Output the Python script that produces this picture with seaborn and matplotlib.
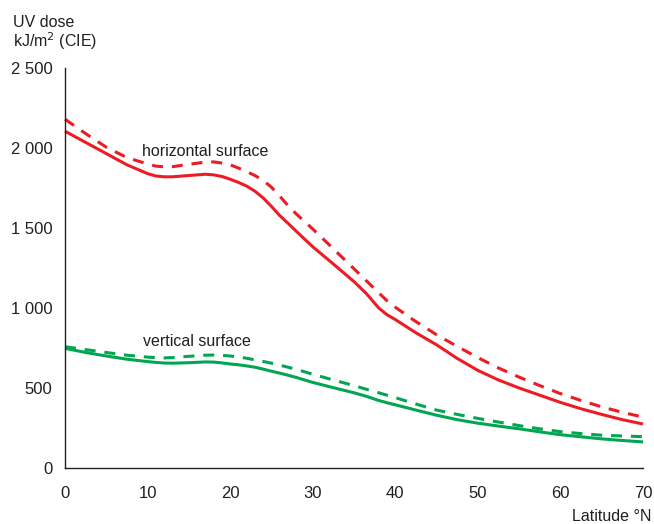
import matplotlib
matplotlib.use("Agg")
import matplotlib.pyplot as plt
from matplotlib import font_manager
import seaborn as sns
import pandas as pd

# Latitude samples (°N) and annual UV dose (kJ/m², CIE-weighted)
latitude = [0, 2.5, 5, 7.5, 10, 11, 12, 13, 15, 17, 18, 19, 20, 21, 22, 23, 24, 25, 26, 27,
            28, 30, 32.5, 35, 36.5, 38, 39, 40, 42.5, 45, 47.5, 50, 52.5, 55, 57.5, 60,
            62.5, 65, 67.5, 70]
horizontal_solid = [2105, 2035, 1965, 1895, 1840, 1825, 1820, 1820, 1828, 1836, 1832, 1822,
                    1805, 1785, 1762, 1730, 1688, 1635, 1578, 1530, 1480, 1383, 1275, 1165,
                    1090, 1000, 958, 928, 845, 770, 685, 610, 550, 500, 455, 410, 370, 335,
                    302, 275]
horizontal_dashed = [2180, 2090, 2005, 1940, 1900, 1887, 1882, 1883, 1898, 1912, 1913, 1906,
                     1895, 1875, 1852, 1828, 1798, 1755, 1700, 1640, 1588, 1494, 1370, 1245,
                     1170, 1095, 1045, 1005, 915, 833, 760, 690, 625, 568, 515, 465, 422,
                     382, 348, 318]
vertical_solid = [748, 722, 700, 680, 665, 660, 656, 655, 658, 663, 662, 657, 650, 645, 638,
                  630, 618, 605, 593, 580, 566, 535, 502, 470, 448, 422, 408, 395, 362, 330,
                  302, 280, 262, 245, 226, 208, 195, 182, 172, 163]
vertical_dashed = [758, 740, 722, 705, 693, 690, 688, 690, 698, 705, 706, 704, 700, 694, 686,
                   676, 666, 655, 643, 630, 617, 586, 550, 515, 492, 470, 455, 440, 400, 362,
                   335, 310, 287, 265, 245, 227, 215, 205, 200, 196]

x_ticks = [0, 10, 20, 30, 40, 50, 60, 70]
y_ticks = [0, 500, 1000, 1500, 2000, 2500]
y_tick_labels = ["0", "500", "1 000", "1 500", "2 000", "2 500"]

RED = "#ED1C24"
GREEN = "#00A651"
INK = "#231F20"

sns.set_theme(style="white")
available = {f.name for f in font_manager.fontManager.ttflist}
family = "Liberation Sans Narrow" if "Liberation Sans Narrow" in available else "Liberation Sans"
plt.rcParams["font.family"] = [family, "DejaVu Sans"]

n = len(latitude)
df = pd.DataFrame({
    "lat": latitude * 4,
    "dose": horizontal_solid + horizontal_dashed + vertical_solid + vertical_dashed,
    "series": ["hs"] * n + ["hd"] * n + ["vs"] * n + ["vd"] * n,
})

fig = plt.figure(figsize=(6.54, 5.24), dpi=100)
ax = fig.add_axes([65 / 654, 1 - 468 / 524, (643 - 65) / 654, (468 - 68) / 524])

sns.lineplot(data=df, x="lat", y="dose", hue="series", style="series",
             palette={"hs": RED, "hd": RED, "vs": GREEN, "vd": GREEN},
             dashes={"hs": "", "hd": (3.6, 2.9), "vs": "", "vd": (3.6, 2.9)},
             linewidth=2.2, legend=False, ax=ax, clip_on=False)
for line in ax.get_lines():
    line.set_solid_joinstyle("round")
    line.set_solid_capstyle("butt")

ax.set_xlim(0, 70)
ax.set_ylim(0, 2500)
ax.set_xticks(x_ticks)
ax.set_yticks(y_ticks)
ax.set_yticklabels(y_tick_labels)
ax.set_xlabel("")
ax.set_ylabel("")

for side in ("top", "right"):
    ax.spines[side].set_visible(False)
for side in ("left", "bottom"):
    ax.spines[side].set_color(INK)
    ax.spines[side].set_linewidth(1.0)

ax.tick_params(axis="both", which="major", direction="out", length=5, width=1.0,
               color=INK, labelcolor=INK, labelsize=12)
ax.tick_params(axis="x", pad=8)
ax.tick_params(axis="y", pad=4)

ax.text(9.3, 1930, "horizontal surface", color=INK, fontsize=11.5, ha="left", va="bottom")
ax.text(9.4, 745, "vertical surface", color=INK, fontsize=11.5, ha="left", va="bottom")

fig.text(13 / 654, 1 - 27 / 524, "UV dose", color=INK, fontsize=11.5, ha="left", va="baseline")
fig.text(13 / 654, 1 - 47 / 524, "kJ/m$^{2}$ (CIE)", color=INK, fontsize=11.5, ha="left", va="baseline")
fig.text(651 / 654, 1 - 521 / 524, "Latitude °N", color=INK, fontsize=11.5, ha="right", va="baseline")

fig.savefig("out.png", dpi=100, facecolor="white")
